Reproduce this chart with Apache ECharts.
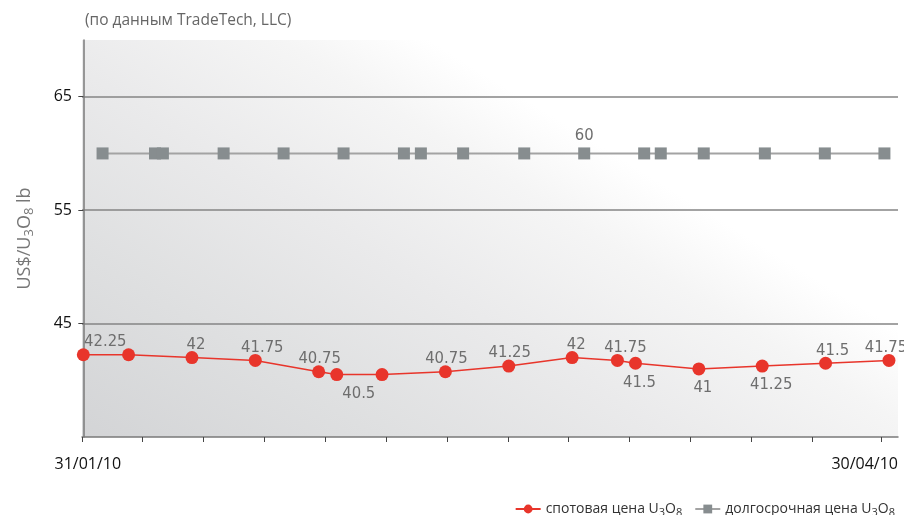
<!DOCTYPE html>
<html><head><meta charset="utf-8">
<script src="https://cdn.jsdelivr.net/npm/echarts@6/dist/echarts.min.js"></script>
<style>html,body{margin:0;padding:0;background:#fff}#c{width:904px;height:515px}</style>
</head><body><div id="c"></div>
<script>
// ---- data ----
const spotDates = ['2010-01-31','2010-02-05','2010-02-12','2010-02-19','2010-02-26','2010-02-28',
  '2010-03-05','2010-03-12','2010-03-19','2010-03-26','2010-03-31','2010-04-02','2010-04-09',
  '2010-04-16','2010-04-23','2010-04-30'];
const spotValues = [42.25,42.25,42,41.75,40.75,40.5,40.5,40.75,41.25,42,41.75,41.5,41,41.25,41.5,41.75];
const termDates = ['2010-02-02 03:00','2010-02-07 22:00','2010-02-08 19:00','2010-02-15 12:00',
  '2010-02-22 03:00','2010-02-28 18:00','2010-03-07 10:00','2010-03-09 07:00','2010-03-13 23:00',
  '2010-03-20 17:00','2010-03-27 08:00','2010-04-02 23:00','2010-04-04 19:00','2010-04-09 13:00',
  '2010-04-16 07:00','2010-04-22 22:00','2010-04-29 12:00'];
const termValues = [60,60,60,60,60,60,60,60,60,60,60,60,60,60,60,60,60];
const yTickValues = [45,55,65];
const xTickDates = ['2010-01-30 20:30','2010-02-06 13:00','2010-02-13 06:30','2010-02-20 00:00',
  '2010-02-26 17:00','2010-03-05 10:40','2010-03-12 04:00','2010-03-18 21:30','2010-03-25 15:00',
  '2010-04-01 08:15','2010-04-08 01:40','2010-04-14 19:00','2010-04-21 12:30','2010-04-29 04:40'];
const xLabelDates = ['2010-01-31 12:00','2010-05-01'];
const xLabelTexts = ['31/01/10','30/04/10'];
const xRange = ['2010-01-30 20:30','2010-05-01 00:00'];
const yRange = [35,70];
const seriesNames = ['спотовая цена U3O8','долгосрочная цена U3O8'];
const subtitle = '(по данным TradeTech, LLC)';
const yName = 'US$/U3O8 lb';

// ---- helpers ----
const baseDate = '2010-01-31';
const DAY = 86400000;
const ts = s => echarts.number.parseDate(s).getTime();
const day = s => Math.round((ts(s) - ts(baseDate)) / DAY * 10000) / 10000;
function richChem(str){
  const parts = str.split('U3O8');
  let out = '{t|' + parts[0] + 'U}{s|3}{t|O}{s|8}';
  if (parts[1]) out += '{t|' + parts[1] + '}';
  return out;
}
const fontMain = '"Open Sans", "Noto Sans", sans-serif';
const fontNarrow = '"Liberation Sans Narrow", "DejaVu Sans Condensed", sans-serif';
const labelColor = '#6e6e6e';

// per-point label placement (styling only)
const T = -2, B = 4;
const spotLabelCfg = {
  0:{position:'top',distance:T,offset:[22,0]}, 1:{show:false},
  2:{position:'top',distance:T,offset:[4,0]}, 3:{position:'top',distance:T,offset:[7,0]},
  4:{position:'top',distance:T,offset:[1,0]}, 5:{position:'bottom',distance:B,offset:[22,0]}, 6:{show:false},
  7:{position:'top',distance:T,offset:[1,0]}, 8:{position:'top',distance:T,offset:[1,0]},
  9:{position:'top',distance:T,offset:[4,0]}, 10:{position:'top',distance:T,offset:[8,0]},
  11:{position:'bottom',distance:B,offset:[4,0]}, 12:{position:'bottom',distance:B,offset:[4,0]},
  13:{position:'bottom',distance:B,offset:[9,0]}, 14:{position:'top',distance:T,offset:[7,0]},
  15:{position:'top',distance:T,offset:[-3,0]}
};
const termLabelIndex = 10;

const spotData = spotValues.map((v,i)=>{
  const c = spotLabelCfg[i] || {};
  return {value:[day(spotDates[i]), v], label: Object.assign({show:true}, c)};
});
const termData = termValues.map((v,i)=>({value:[day(termDates[i]), v], label:{show: i===termLabelIndex}}));
const xLabelDays = xLabelDates.map(day);

const chart = echarts.init(document.getElementById('c'), null, {renderer:'canvas'});
const gridBg = new echarts.graphic.LinearGradient(0, 1, 0.335, -0.115, [
  {offset:0, color:'#d3d4d6'},
  {offset:0.3, color:'#dedfe0'},
  {offset:0.6, color:'#eaeaeb'},
  {offset:0.85, color:'#f5f5f5'},
  {offset:1, color:'#ffffff'}
]);
const richText = {
  t:{fontFamily:fontMain, fontSize:14, color:'#333', lineHeight:18},
  s:{fontFamily:fontMain, fontSize:11, color:'#333', verticalAlign:'bottom', lineHeight:18, padding:[6,0,0,0]}
};
chart.setOption({
  animation:false,
  backgroundColor:'#ffffff',
  title:{text:subtitle, left:80, top:8, textStyle:{fontFamily:fontMain, fontSize:15.5, fontWeight:'normal', color:'#666'}},
  grid:{left:82, right:6, top:40, bottom:78, show:true, backgroundColor:gridBg, borderWidth:0, containLabel:false},
  legend:{
    right:4, top:496, itemWidth:25, itemHeight:11, itemGap:12,
    data:seriesNames,
    formatter: name => richChem(name),
    textStyle:{rich:richText}
  },
  xAxis:{
    type:'value', min:day(xRange[0]), max:day(xRange[1]),
    axisLine:{show:true, lineStyle:{color:'#7a7a7a', width:1.5}},
    axisTick:{show:true, length:5, customValues:xTickDates.map(day), lineStyle:{color:'#444', width:1}},
    axisLabel:{
      customValues:xLabelDays, margin:19, color:'#111', fontFamily:fontMain, fontSize:16,
      alignMaxLabel:'right',
      formatter:(v)=>{ const k = xLabelDays.indexOf(v); return k>=0 ? xLabelTexts[k] : ''; }
    },
    splitLine:{show:false}
  },
  yAxis:{
    type:'value', min:yRange[0], max:yRange[1],
    name: richChem(yName),
    nameLocation:'middle', nameGap:46,
    nameTextStyle:{rich:{
      t:{fontFamily:fontMain, fontSize:18, color:'#777', lineHeight:22},
      s:{fontFamily:fontMain, fontSize:13, color:'#777', verticalAlign:'bottom', lineHeight:22, padding:[7,0,0,0]}
    }},
    axisLine:{show:true, lineStyle:{color:'#7a7a7a', width:1.5}},
    axisTick:{show:true, length:5, customValues:yTickValues, lineStyle:{color:'#444', width:1}},
    axisLabel:{customValues:yTickValues, margin:10, color:'#111', fontFamily:fontMain, fontSize:16},
    splitLine:{show:true, lineStyle:{color:'#858585', width:1.5}}
  },
  series:[
    {
      name:seriesNames[1], type:'line', data:termData, z:2,
      symbol:'rect', symbolSize:12,
      itemStyle:{color:'#878d8f'},
      lineStyle:{color:'#a3a3a3', width:2},
      label:{position:'top', distance:3, color:labelColor, fontFamily:fontNarrow, fontSize:16.5,
        formatter:p=>String(p.value[1])}
    },
    {
      name:seriesNames[0], type:'line', data:spotData, z:3,
      symbol:'circle', symbolSize:13,
      itemStyle:{color:'#e8352b'},
      lineStyle:{color:'#e8352b', width:1.5},
      label:{color:labelColor, fontFamily:fontNarrow, fontSize:16.5,
        formatter:p=>String(p.value[1])}
    }
  ]
});
</script></body></html>
